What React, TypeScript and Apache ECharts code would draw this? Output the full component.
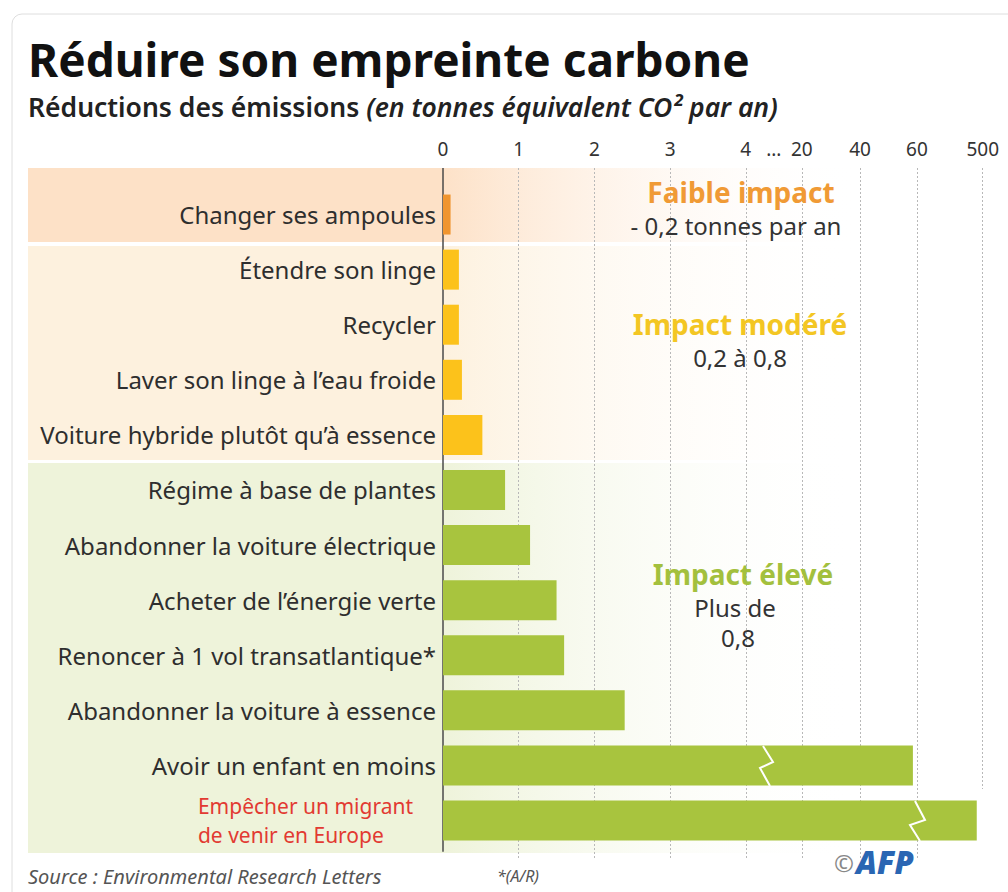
import React, { useEffect, useRef } from 'react';
import * as echarts from 'echarts';

const categories = [
  'Changer ses ampoules',
  'Étendre son linge',
  'Recycler',
  'Laver son linge à l’eau froide',
  'Voiture hybride plutôt qu’à essence',
  'Régime à base de plantes',
  'Abandonner la voiture électrique',
  'Acheter de l’énergie verte',
  'Renoncer à 1 vol transatlantique*',
  'Abandonner la voiture à essence',
  'Avoir un enfant en moins',
  'Empêcher un migrant\nde venir en Europe',
];
const reductions = [0.1, 0.21, 0.21, 0.25, 0.52, 0.82, 1.15, 1.5, 1.6, 2.4, 58.6, 460];
const impactGroups = ['faible', 'modere', 'modere', 'modere', 'modere', 'eleve', 'eleve', 'eleve', 'eleve', 'eleve', 'eleve', 'eleve'];
const tickValues = [0, 1, 2, 3, 4, 12, 20, 40, 60, 500];
const tickLabels = ['0', '1', '2', '3', '4', '...', '20', '40', '60', '500'];
const gridValues = [1, 2, 3, 4, 20, 40, 60, 500];
// broken axis: real values -> axis positions
const breakValues = [0, 4, 20, 40, 60, 500];
const breakPositions = [0, 4, 4.74, 5.51, 6.26, 7.13];

const groupColors: Record<string, string> = { faible: '#f0952f', modere: '#fcc21b', eleve: '#a8c43e' };
const FONT = "'Noto Sans', 'Open Sans', sans-serif";

function toAxis(v: number): number {
  for (let i = 1; i < breakValues.length; i++) {
    if (v <= breakValues[i]) {
      const a = breakValues[i - 1], b = breakValues[i];
      const pa = breakPositions[i - 1], pb = breakPositions[i];
      return pa + ((v - a) / (b - a)) * (pb - pa);
    }
  }
  return breakPositions[breakPositions.length - 1];
}

const AX_MAX = 7.3;
const GRID_LEFT = 443;
const UNIT = 75.7;
const GRID_RIGHT = 1008 - (GRID_LEFT + AX_MAX * UNIT);

export default function App() {
  const ref = useRef<HTMLDivElement>(null);
  useEffect(() => {
    document.body.style.margin = '0';
    const chart = echarts.init(ref.current!, null, { renderer: 'svg' });
    const tickPos = tickValues.map(toAxis);
    const band = (y: number, h: number, c: string) => ({
      type: 'rect', z: -10, silent: true,
      shape: { x: 28, y, width: 980, height: h },
      style: {
        fill: new echarts.graphic.LinearGradient(0, 0, 1, 0, [
          { offset: 0, color: c },
          { offset: 0.42, color: c },
          { offset: 0.85, color: 'rgba(255,255,255,0)' },
        ]),
      },
    });
    const txt = (x: number, y: number, text: string, size: number, color: string, weight: any = 'normal', align = 'center') => ({
      type: 'text', x, y, z: 20,
      style: { text, fontSize: size, fontWeight: weight, fill: color, fontFamily: FONT, align, verticalAlign: 'middle' },
    });
    const markLineData: any[] = gridValues.map((v) => [
      { coord: [toAxis(v), 0] },
      { coord: [toAxis(v), v === 500 ? 0.9 : 1] },
    ]);
    markLineData.push([
      { coord: [0, 0], lineStyle: { type: 'solid', color: '#4a4a4a', width: 1.5 } },
      { coord: [0, 0.991] },
    ]);
    chart.setOption({
      animation: false,
      backgroundColor: '#fff',
      grid: [
        { left: GRID_LEFT, right: GRID_RIGHT, top: 187, bottom: 892 - 848 },
        { left: GRID_LEFT, right: GRID_RIGHT, top: 168, bottom: 892 - 858 },
      ],
      xAxis: [
        { type: 'value', gridIndex: 0, min: 0, max: AX_MAX, show: false },
        {
          type: 'value', gridIndex: 1, min: 0, max: AX_MAX, position: 'top',
          axisLine: { show: false }, axisTick: { show: false }, splitLine: { show: false },
          axisLabel: {
            customValues: tickPos,
            margin: 10,
            fontSize: 19, color: '#333', fontFamily: FONT,
            formatter: (v: number) => {
              const i = tickPos.findIndex((p) => Math.abs(p - v) < 1e-6);
              return i >= 0 ? tickLabels[i] : '';
            },
          },
        },
      ],
      yAxis: [
        {
          type: 'category', gridIndex: 0, data: categories, inverse: true,
          axisLine: { show: false }, axisTick: { show: false },
          axisLabel: {
            margin: 7, fontSize: 24, color: '#2e2e2e', fontFamily: FONT,
            formatter: (v: string) => (v.indexOf('\n') >= 0 ? `{red|${v}}` : v),
            rich: {
              red: { color: '#e23a32', fontSize: 21, fontFamily: FONT, lineHeight: 29, align: 'left', padding: [0, 23, 0, 0] },
            },
          },
        },
        { type: 'value', gridIndex: 1, min: 0, max: 1, inverse: true, show: false },
      ],
      series: [
        {
          type: 'line', xAxisIndex: 1, yAxisIndex: 1, data: [], z: 1, silent: true,
          markLine: {
            silent: true, symbol: 'none', label: { show: false },
            lineStyle: { type: [2, 2], color: '#b8b8b8', width: 1 },
            data: markLineData,
          },
        },
        {
          type: 'bar', xAxisIndex: 0, yAxisIndex: 0, barWidth: 40, z: 5, silent: true,
          data: reductions.map((v, i) => ({ value: toAxis(v), itemStyle: { color: groupColors[impactGroups[i]] } })),
        },
      ],
      graphic: [
        { type: 'rect', z: -20, silent: true, shape: { x: 12, y: 14, width: 1020, height: 900, r: 10 }, style: { fill: '#fff', stroke: '#dedede', lineWidth: 1 } },
        band(168, 74, '#fde1c7'),
        band(246, 214, '#fdf1de'),
        band(463, 390, '#eef3da'),
        { type: 'polyline', z: 30, silent: true, shape: { points: [[763, 746], [773, 762], [760, 768], [770, 786]] }, style: { stroke: '#fff', lineWidth: 2, fill: null } },
        { type: 'polyline', z: 30, silent: true, shape: { points: [[915, 801], [925, 820], [910, 825], [920, 841]] }, style: { stroke: '#fff', lineWidth: 2, fill: null } },
        txt(28, 59, 'Réduire son empreinte carbone', 46, '#111', 'bold', 'left'),
        {
          type: 'text', x: 28, y: 107, z: 20,
          style: {
            text: '{a|Réductions des émissions }{b|(en tonnes équivalent CO² par an)}',
            verticalAlign: 'middle', align: 'left',
            rich: {
              a: { fontSize: 26.5, fontWeight: 600, fill: '#222', fontFamily: FONT },
              b: { fontSize: 26.5, fontWeight: 600, fontStyle: 'italic', fill: '#222', fontFamily: FONT },
            },
          },
        },
        txt(741, 192, 'Faible impact', 28, '#f09a35', 'bold'),
        txt(736, 225, '- 0,2 tonnes par an', 24, '#333'),
        txt(740, 324, 'Impact modéré', 28, '#f3c623', 'bold'),
        txt(740, 357, '0,2 à 0,8', 24, '#333'),
        txt(743, 574, 'Impact élevé', 28, '#a3c03d', 'bold'),
        txt(735, 607, 'Plus de', 24, '#333'),
        txt(738, 637, '0,8', 24, '#333'),
        {
          type: 'text', x: 28, y: 876, z: 20,
          style: { text: 'Source : Environmental Research Letters', fontSize: 20, fontStyle: 'italic', fill: '#555', fontFamily: FONT, verticalAlign: 'middle' },
        },
        {
          type: 'text', x: 497, y: 876, z: 20,
          style: { text: '*(A/R)', fontSize: 16, fontStyle: 'italic', fill: '#555', fontFamily: FONT, verticalAlign: 'middle' },
        },
        txt(844, 862, '©', 24, '#888', 'normal'),
        {
          type: 'text', x: 856, y: 862, z: 20,
          style: { text: 'AFP', fontSize: 31, fontWeight: 900, fontStyle: 'italic', fill: '#2a66b3', fontFamily: FONT, verticalAlign: 'middle' },
        },
      ],
    });
    return () => chart.dispose();
  }, []);
  return <div ref={ref} style={{ position: 'absolute', left: 0, top: 0, width: 1008, height: 892 }} />;
}
